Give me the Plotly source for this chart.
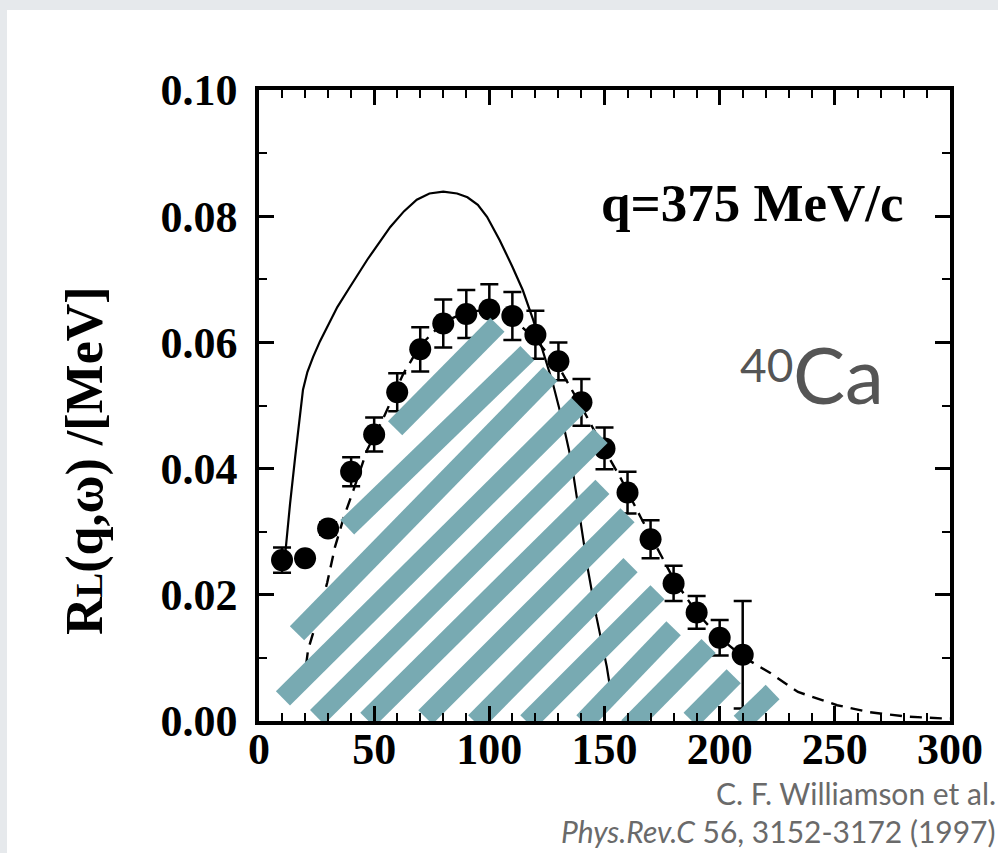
import plotly.graph_objects as go

# ---------------- data ----------------
omega = [10, 20, 30, 40, 50, 60, 70, 80, 90, 100, 110, 120, 130, 140, 150, 160, 170, 180, 190, 200, 210]
rl = [0.0255, 0.0258, 0.0305, 0.0395, 0.0454, 0.0521, 0.0589, 0.0630, 0.0645, 0.0652, 0.0642, 0.0612,
      0.0570, 0.0505, 0.0432, 0.0362, 0.0288, 0.0218, 0.0172, 0.0132, 0.0105]
rl_err = [0.0020, 0.0, 0.0010, 0.0023, 0.0027, 0.0030, 0.0035, 0.0038, 0.0038, 0.0040, 0.0038, 0.0038,
          0.0030, 0.0037, 0.0033, 0.0033, 0.0030, 0.0028, 0.0026, 0.0028, 0.0085]

solid_x = [11.0, 11.3, 12.2, 13.5, 15.7, 17.5, 19.1, 21.0, 23.5, 26.5, 29.5, 34.0, 39.0, 47.0, 57.0, 63.0,
           68.5, 74.0, 80.0, 86.0, 90.5, 95.0, 99.0, 104.5, 110.0, 114.5, 119.0, 123.0, 127.5, 132.0,
           135.5, 139.3, 142.6, 146.5, 151.0, 153.0]
solid_y = [0.0250, 0.0262, 0.0285, 0.0345, 0.0418, 0.0480, 0.0525, 0.0553, 0.0577, 0.0602, 0.0624, 0.0656,
           0.0685, 0.0731, 0.0783, 0.0808, 0.0826, 0.0836, 0.0839, 0.0836, 0.0830, 0.0818, 0.0799, 0.0762,
           0.0720, 0.0683, 0.0636, 0.0590, 0.0536, 0.0472, 0.0414, 0.0323, 0.0244, 0.0165, 0.0086, 0.0040]

dashed_x = [20.5, 21.3, 24.3, 27.0, 29.6, 33.0, 37.0, 41.0, 47.0, 54.0, 62.6, 70.0, 80.0, 90.0, 100.0,
            110.0, 120.0, 130.0, 140.0, 150.0, 157.0, 165.7, 174.0, 180.0, 190.0, 200.0, 210.0, 222.0,
            234.0, 251.0, 265.0, 281.0, 297.0, 300.0]
dashed_y = [0.0090, 0.0113, 0.0149, 0.0185, 0.0219, 0.0276, 0.0325, 0.0366, 0.0430, 0.0480, 0.0550,
            0.0595, 0.0632, 0.0648, 0.0652, 0.0638, 0.0605, 0.0562, 0.0498, 0.0430, 0.0385, 0.0323,
            0.0266, 0.0225, 0.0172, 0.0132, 0.0102, 0.0076, 0.0046, 0.0025, 0.0014, 0.0007, 0.0004, 0.0004]

# hatch stripes (start / end in data units)
stripe_x0 = [59.1, 38.3, 16.5, 10.4, 25.2, 47.0, 72.2, 93.9, 116.5, 140.9, 160.4, 187.4, 209.1]
stripe_y0 = [0.0464, 0.0307, 0.0139, 0.0036, 0.0006, 0.0002, 0.0006, -0.0002, -0.0002, -0.0002, -0.0010, 0.0002, -0.0003]
stripe_x1 = [103.5, 116.5, 126.5, 138.7, 148.3, 149.1, 160.0, 161.3, 173.0, 180.0, 195.2, 206.1, 223.0]
stripe_y1 = [0.0628, 0.0583, 0.0550, 0.0501, 0.0452, 0.0371, 0.0326, 0.0247, 0.0204, 0.0147, 0.0119, 0.0071, 0.0046]

x_ticks = [0, 50, 100, 150, 200, 250, 300]
y_ticks = [0.00, 0.02, 0.04, 0.06, 0.08, 0.10]

# ---------------- figure ----------------
fig = go.Figure()

fig.add_trace(go.Scatter(x=solid_x, y=solid_y, mode="lines",
                         line=dict(color="black", width=2.2), hoverinfo="skip", showlegend=False))
fig.add_trace(go.Scatter(x=dashed_x, y=dashed_y, mode="lines",
                         line=dict(color="black", width=2.4, dash="12px,8px"), hoverinfo="skip",
                         showlegend=False))
fig.add_trace(go.Scatter(x=omega, y=rl, mode="markers",
                         marker=dict(color="black", size=22, line=dict(width=0)),
                         error_y=dict(type="data", array=rl_err, color="black", thickness=2.5, width=9),
                         showlegend=False))

sx, sy = [], []
for a, b, c, d in zip(stripe_x0, stripe_y0, stripe_x1, stripe_y1):
    sx += [a, c, None]
    sy += [b, d, None]
fig.add_trace(go.Scatter(x=sx, y=sy, mode="lines", line=dict(color="#78aab2", width=20),
                         hoverinfo="skip", showlegend=False))

tick_font = dict(family="Liberation Serif", size=44, color="black", weight="bold")
axis_common = dict(showline=True, linecolor="black", linewidth=3.5, mirror="allticks",
                   ticks="inside", ticklen=15, tickwidth=2.5, tickcolor="black",
                   showgrid=False, zeroline=False, tickfont=tick_font)

fig.update_xaxes(range=[0, 300], tickvals=x_ticks, ticklabelstandoff=-14,
                 minor=dict(ticks="inside", ticklen=8, tickwidth=2, tickcolor="black", dtick=10,
                            showgrid=False),
                 **axis_common)
fig.update_yaxes(range=[0, 0.1], tickvals=y_ticks, tickformat=".2f", ticklabelstandoff=9,
                 minor=dict(ticks="inside", ticklen=8, tickwidth=2, tickcolor="black", dtick=0.01,
                            showgrid=False),
                 **axis_common)

# white slide panel on grey background
fig.add_shape(type="rect", xref="paper", yref="paper", x0=-0.3647, x1=1.3, y0=-0.4, y1=1.1268,
              fillcolor="white", line=dict(width=0), layer="below")

annos = [
    dict(text="R<span style='font-size:37px'>L</span>(q,ω) /[MeV]", xref="paper", yref="paper",
         x=(85 - 259) / 691, y=(721 - 461) / 631, textangle=-90, showarrow=False,
         font=dict(family="Liberation Serif", size=52, color="black", weight="bold"),
         xanchor="center", yanchor="middle"),
    dict(text="q=375 MeV/c", xref="paper", yref="paper", x=(906 - 259) / 691, y=(721 - 203) / 631,
         showarrow=False, xanchor="right", yanchor="middle",
         font=dict(family="Liberation Serif", size=53, color="black", weight="bold")),
    dict(text="Ca", xref="paper", yref="paper", x=(886 - 259) / 691, y=(721 - 374) / 631,
         showarrow=False, xanchor="right", yanchor="middle",
         font=dict(family="Lato", size=78, color="#555555")),
    dict(text="40", xref="paper", yref="paper", x=(795 - 259) / 691, y=(721 - 364) / 631,
         showarrow=False, xanchor="right", yanchor="middle",
         font=dict(family="Lato", size=46, color="#555555")),
    dict(text="C. F. Williamson et al.", xref="paper", yref="paper", x=(998 - 259) / 691,
         y=(721 - 793) / 631, showarrow=False, xanchor="right", yanchor="middle",
         font=dict(family="Lato", size=30, color="#6a6a6a")),
    dict(text="<i>Phys.Rev.C</i> 56, 3152-3172 (1997)", xref="paper", yref="paper",
         x=(998 - 259) / 691, y=(721 - 831) / 631, showarrow=False, xanchor="right",
         yanchor="middle", font=dict(family="Lato", size=30, color="#6a6a6a")),
]
for a in annos:
    fig.add_annotation(**a)

fig.update_layout(width=998, height=853, margin=dict(l=259, r=48, t=90, b=132, autoexpand=False),
                  paper_bgcolor="#e6e9ec", plot_bgcolor="white", showlegend=False)

fig.write_html("out.html")
